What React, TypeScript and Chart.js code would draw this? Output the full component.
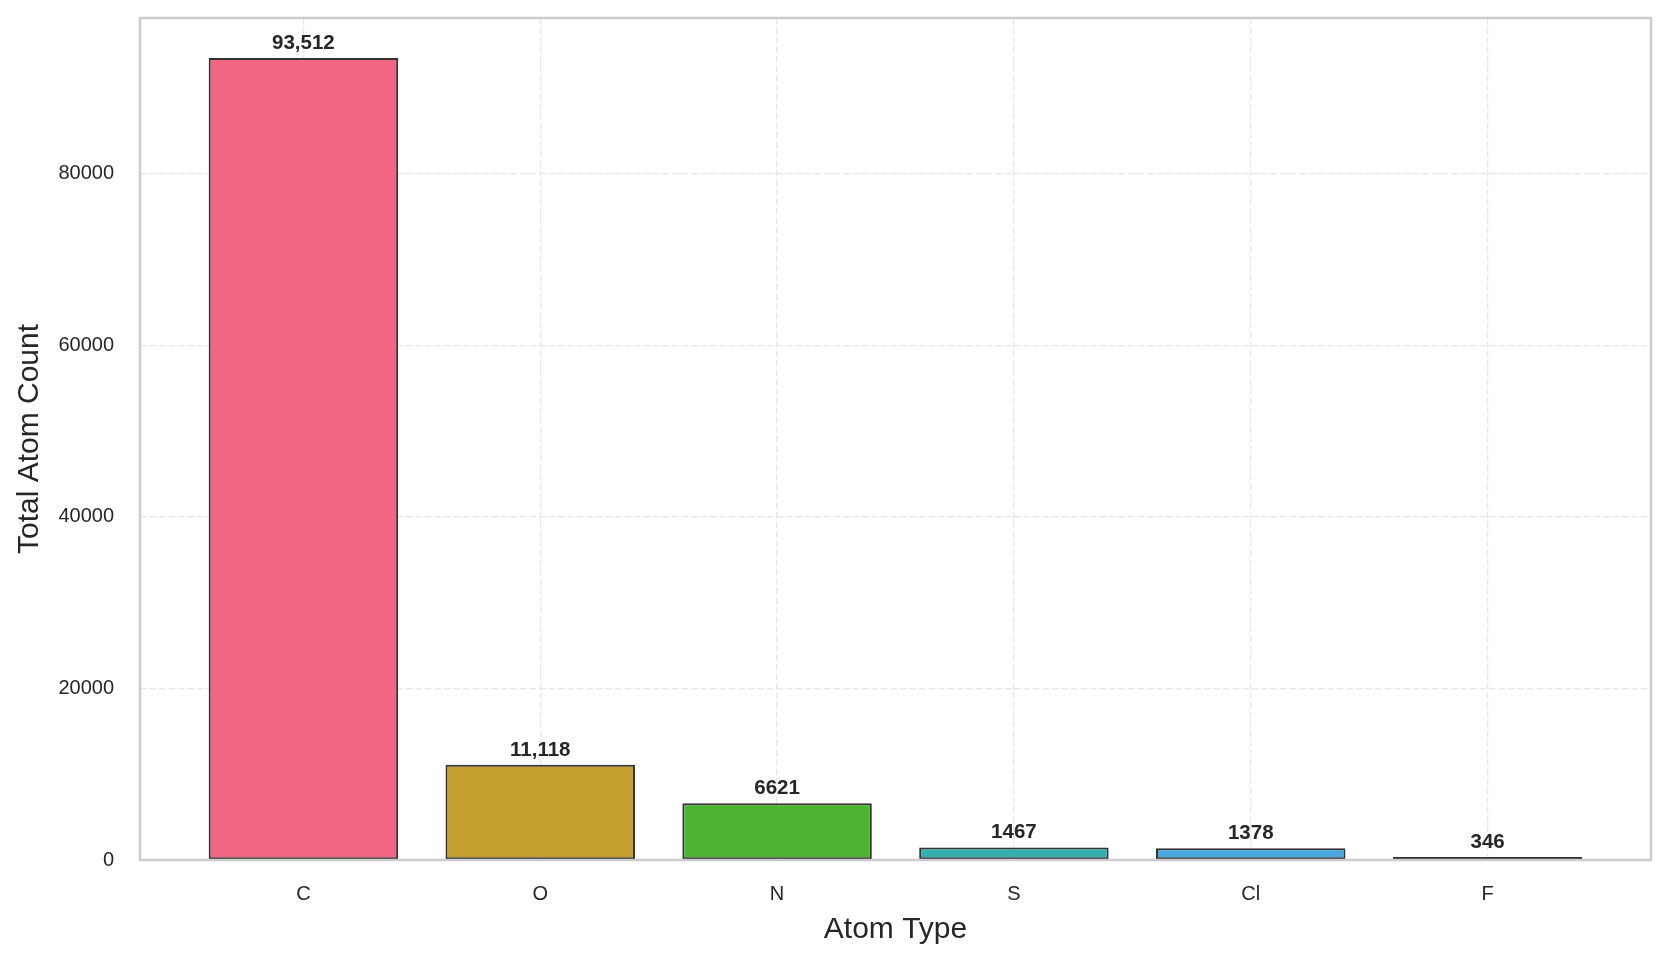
import React, { useEffect, useRef } from "react";
import { Chart, registerables } from "chart.js";

Chart.register(...registerables);

const categories = ["C", "O", "N", "S", "Cl", "F"];
const counts = [93512, 11118, 6621, 1467, 1378, 346];
const barColors = ["#f26684", "#c49e2f", "#4db533", "#35aeae", "#4aa8e0", "#df66e0"];
const yTickValues = [0, 20000, 40000, 60000, 80000];
const xTickValues = [0, 1, 2, 3, 4, 5];

const FONT = "'Liberation Sans', Arial, sans-serif";
const TEXT = "#262626";

function formatCount(v: number): string {
  return v >= 10000 ? v.toLocaleString("en-US") : String(v);
}

const frameAndLabels = {
  id: "frameAndLabels",
  afterDatasetsDraw(chart: any) {
    const { ctx, chartArea } = chart;
    ctx.save();
    ctx.strokeStyle = "#cccccc";
    ctx.lineWidth = 2.5;
    ctx.strokeRect(chartArea.left, chartArea.top, chartArea.right - chartArea.left, chartArea.bottom - chartArea.top);
    const meta = chart.getDatasetMeta(0);
    ctx.fillStyle = TEXT;
    ctx.font = `bold 20.5px ${FONT}`;
    ctx.textAlign = "center";
    ctx.textBaseline = "alphabetic";
    meta.data.forEach((el: any, i: number) => {
      ctx.fillText(formatCount(counts[i]), el.x, el.y - 9);
    });
    ctx.restore();
  },
};

export default function App() {
  const canvasRef = useRef<HTMLCanvasElement | null>(null);

  useEffect(() => {
    document.body.style.margin = "0";
    document.body.style.overflow = "hidden";
    const canvas = canvasRef.current;
    if (!canvas) return;
    const chart = new Chart(canvas, {
      type: "bar",
      data: {
        datasets: [
          {
            data: counts.map((v, i) => ({ x: i, y: v })),
            backgroundColor: barColors,
            borderColor: "#333333",
            borderWidth: 2,
            borderSkipped: false,
            categoryPercentage: 1,
            barPercentage: 0.8,
          },
        ],
      },
      options: {
        animation: false,
        responsive: true,
        maintainAspectRatio: false,
        layout: { padding: { top: 18, right: 17, left: 0, bottom: 0 } },
        plugins: { legend: { display: false }, tooltip: { enabled: false } },
        scales: {
          x: {
            type: "linear",
            min: -0.69,
            max: 5.69,
            offset: false,
            afterBuildTicks: (scale: any) => {
              scale.ticks = xTickValues.map((v) => ({ value: v }));
            },
            afterFit: (scale: any) => {
              scale.height = 99;
              scale.paddingLeft = 0;
              scale.paddingRight = 0;
            },
            grid: { color: "#e6e6e6", lineWidth: 1.3, drawTicks: false, offset: false },
            border: { display: false, dash: [6.5, 3] },
            ticks: {
              autoSkip: false,
              maxRotation: 0,
              padding: 22,
              color: TEXT,
              font: { family: FONT, size: 20 },
              callback: (v: any) => categories[Number(v)] ?? "",
            },
            title: {
              display: true,
              text: "Atom Type",
              color: TEXT,
              font: { family: FONT, size: 30 },
              padding: { top: 0, bottom: 11.5 },
            },
          },
          y: {
            type: "linear",
            min: 0,
            max: 93512 * 1.05,
            afterBuildTicks: (scale: any) => {
              scale.ticks = yTickValues.map((v) => ({ value: v }));
            },
            afterFit: (scale: any) => {
              scale.width = 140;
              scale.paddingTop = 0;
              scale.paddingBottom = 0;
            },
            grid: { color: "#e6e6e6", lineWidth: 1.3, drawTicks: false },
            border: { display: false, dash: [6.5, 3] },
            ticks: {
              padding: 26,
              color: TEXT,
              font: { family: FONT, size: 20 },
              callback: (v: any) => String(v),
            },
            title: {
              display: true,
              text: "Total Atom Count",
              color: TEXT,
              font: { family: FONT, size: 30 },
              padding: { top: 11.5, bottom: 0 },
            },
          },
        },
      },
      plugins: [frameAndLabels],
    });
    return () => chart.destroy();
  }, []);

  return (
    <div style={{ width: "1668px", height: "959px", position: "relative", background: "#ffffff" }}>
      <canvas ref={canvasRef} />
    </div>
  );
}
